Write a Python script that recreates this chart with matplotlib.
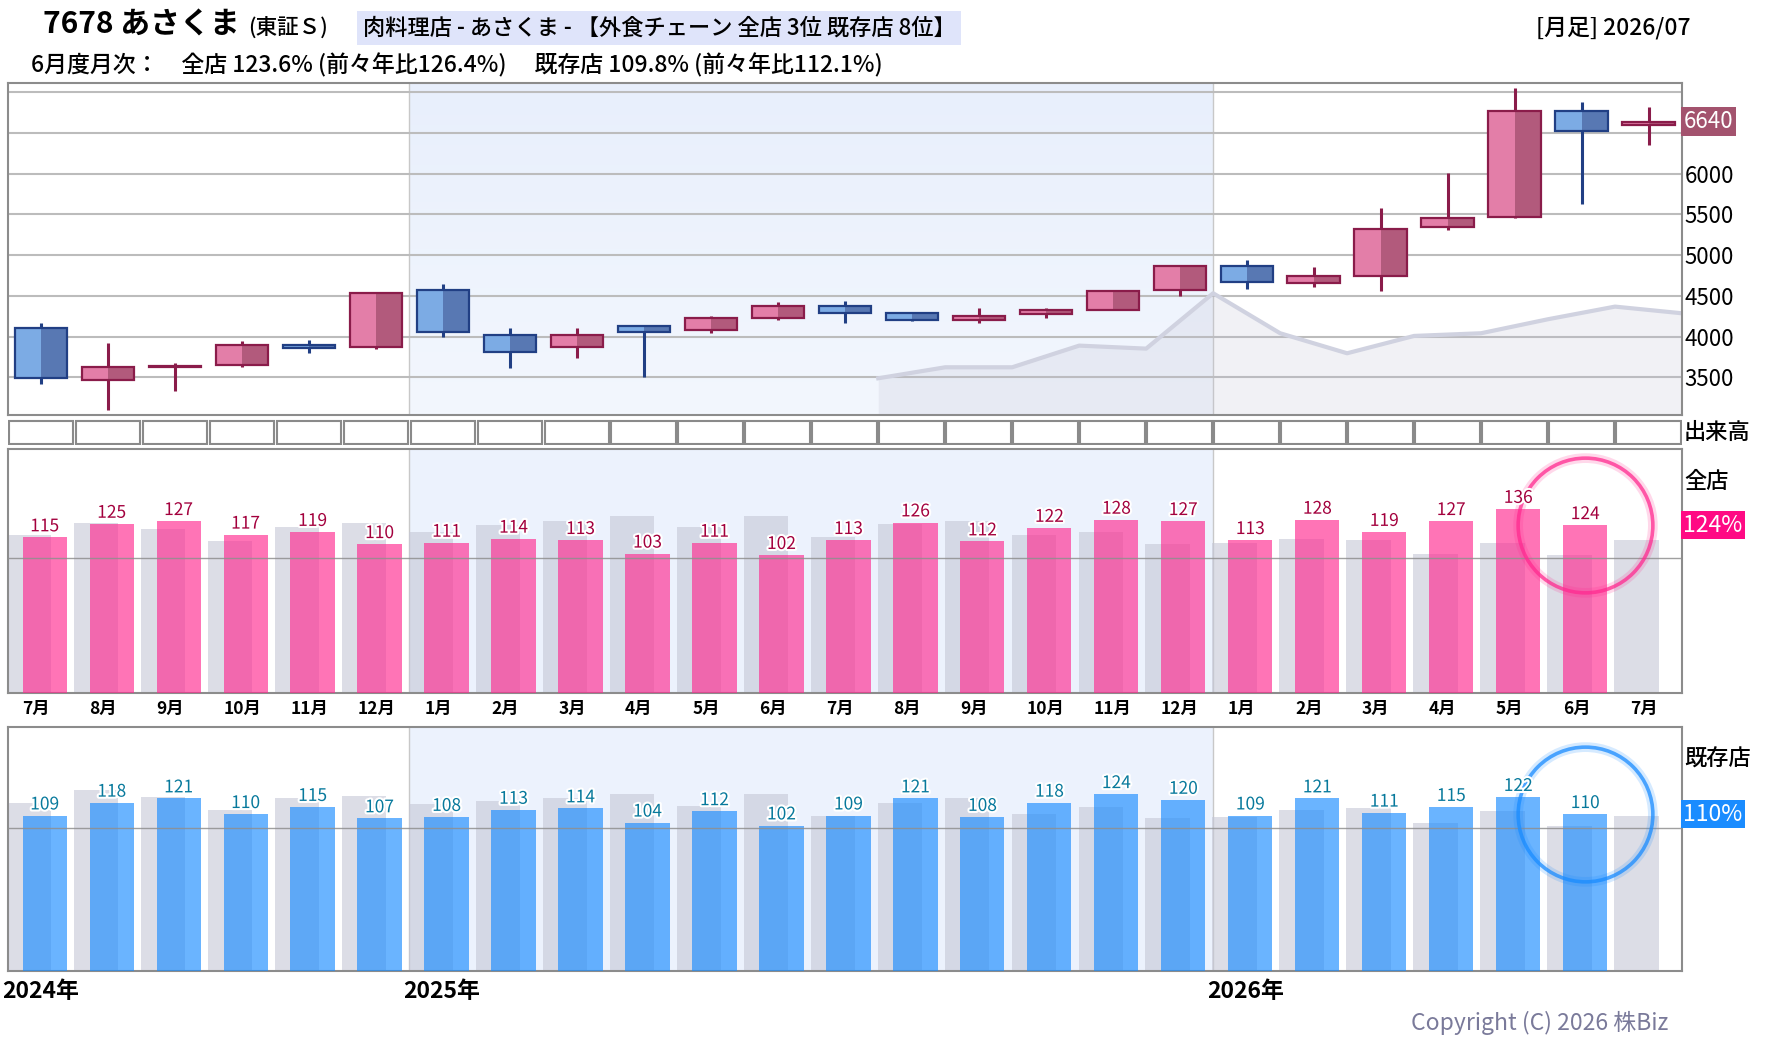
import matplotlib
matplotlib.use("Agg")
import matplotlib.pyplot as plt
import matplotlib.transforms as mtransforms
import matplotlib.patheffects as pe
from matplotlib.colors import LinearSegmentedColormap
import numpy as np

plt.rcParams['font.family'] = ['Noto Sans CJK JP', 'DejaVu Sans']

# ---------------- data ----------------
months = ["7月", "8月", "9月", "10月", "11月", "12月", "1月", "2月", "3月", "4月",
          "5月", "6月", "7月", "8月", "9月", "10月", "11月", "12月", "1月", "2月",
          "3月", "4月", "5月", "6月", "7月"]
year_labels = ["2024年", "2025年", "2026年"]
year_start_idx = [0, 6, 18]

opens = [4102, 3463, 3623, 3647, 3893, 3877, 4569, 4016, 3869, 4127, 4077, 4225, 4372,
         4286, 4200, 4274, 4323, 4569, 4864, 4655, 4741, 5343, 5466, 6768, 6596]
highs = [4167, 3922, 3672, 3946, 3959, 4532, 4647, 4106, 4106, 4127, 4253, 4425, 4438,
         4286, 4348, 4348, 4557, 4864, 4941, 4851, 5580, 6010, 7054, 6882, 6821]
lows = [3414, 3103, 3336, 3631, 3803, 3852, 4000, 3619, 3742, 3500, 4049, 4208, 4172,
        4188, 4172, 4233, 4323, 4503, 4589, 4614, 4565, 5314, 5453, 5625, 6358]
closes = [3488, 3623, 3639, 3893, 3856, 4532, 4053, 3807, 4016, 4053, 4225, 4372, 4286,
          4200, 4249, 4323, 4557, 4864, 4667, 4741, 5318, 5453, 6768, 6522, 6640]

compare_start = 13
compare_vals = [3488, 3623, 3623, 3889, 3852, 4532, 4041, 3795, 4008, 4041, 4213, 4368, 4286]

price_ticks = [3500, 4000, 4500, 5000, 5500, 6000, 6500, 7000]
price_tick_labels = ["3500", "4000", "4500", "5000", "5500", "6000", "", ""]

zenten = [115, 125, 127, 117, 119, 110, 111, 114, 113, 103, 111, 102, 113, 126, 112, 122,
          128, 127, 113, 128, 119, 127, 136, 124]
zenten_prev = [117, 126, 121, 112, 123, 126, 119, 124, 127, 131, 123, 131, 115, 125, 127,
               117, 119, 110, 111, 114, 113, 103, 111, 102, 113]
kizon = [109, 118, 121, 110, 115, 107, 108, 113, 114, 104, 112, 102, 109, 121, 108, 118,
         124, 120, 109, 121, 111, 115, 122, 110]
kizon_prev = [118, 127, 122, 113, 121, 123, 117, 119, 121, 124, 116, 124, 109, 118, 121,
              110, 115, 107, 108, 113, 114, 104, 112, 102, 109]

zenten_latest = 123.6
kizon_latest = 109.8

title_code = "7678 あさくま"
title_market = "(東証Ｓ)"
title_box = "肉料理店 - あさくま - 【外食チェーン 全店 3位 既存店 8位】"
title_right = "[月足] 2026/07"
subtitle = "6月度月次：　全店 123.6% (前々年比126.4%)　 既存店 109.8% (前々年比112.1%)"
copyright_text = "Copyright (C) 2026 株Biz"

# ---------------- layout ----------------
W, H = 1780, 1054
fig = plt.figure(figsize=(W / 100, H / 100), dpi=100)
fig.patch.set_facecolor("white")

L_PX, R_PX = 7.5, 1682.0


def add_ax(top, bottom):
    return fig.add_axes([L_PX / W, 1 - bottom / H, (R_PX - L_PX) / W, (bottom - top) / H])


ax_p = add_ax(82.5, 415.0)
ax_v = add_ax(419.3, 445.3)
ax_z = add_ax(449.3, 693.3)
ax_k = add_ax(727.3, 970.7)

n = len(months)
x = np.arange(n)
xl = (-0.5, n - 0.5)
shade = (5.5, 17.5)
spine_c = "#8c8c8c"

for a in (ax_p, ax_v, ax_z, ax_k):
    a.set_xlim(*xl)
    for s in a.spines.values():
        s.set_color(spine_c)
        s.set_linewidth(1.5)

# ---------------- price panel ----------------
ylo, yhi = 3037, 7120
ax_p.set_ylim(ylo, yhi)
cmap = LinearSegmentedColormap.from_list("sh", ["#f3f7fe", "#e8effc"])
grad = np.linspace(0, 1, 100).reshape(-1, 1)
ax_p.imshow(grad, extent=(shade[0], shade[1], ylo, yhi), origin="lower",
            aspect="auto", cmap=cmap, zorder=0)
for b in shade:
    ax_p.axvline(b, color="#c8c8c8", lw=1, zorder=0.5)
for t in price_ticks:
    ax_p.axhline(t, color="#bcbcbc", lw=1.5, zorder=1)

cx = np.arange(compare_start, compare_start + len(compare_vals)) - 0.5
ax_p.fill_between(cx, compare_vals, ylo, color="#c0c0d2", alpha=0.22, lw=0, zorder=1.2)
ax_p.plot(cx, compare_vals, color="#d0d2e0", lw=3, zorder=1.3, solid_joinstyle="round")

o = np.array(opens); c = np.array(closes); hi = np.array(highs); lo = np.array(lows)
up = c >= o
bw = 0.78
for i in range(n):
    if up[i]:
        lc, dc, ec = "#e37ea8", "#b25a7c", "#8a1c4a"
    else:
        lc, dc, ec = "#7cabe4", "#5878b3", "#213f84"
    bot = min(o[i], c[i]); ht = max(abs(c[i] - o[i]), 12)
    ax_p.vlines(x[i], lo[i], hi[i], color=ec, lw=2.2, zorder=2)
    ax_p.bar(x[i] - bw / 4, ht, bottom=bot, width=bw / 2, color=lc, lw=0, zorder=3)
    ax_p.bar(x[i] + bw / 4, ht, bottom=bot, width=bw / 2, color=dc, lw=0, zorder=3)
    ax_p.bar(x[i], ht, bottom=bot, width=bw, facecolor="none", edgecolor=ec, lw=1.6, zorder=4)

ax_p.yaxis.tick_right()
ax_p.set_yticks(price_ticks)
ax_p.set_yticklabels(price_tick_labels)
ax_p.tick_params(axis="y", length=0, pad=2, labelsize=16)
ax_p.set_xticks([])

ax_p.text(1.0008, closes[-1], f"{closes[-1]}", transform=ax_p.get_yaxis_transform(),
          ha="left", va="center", color="white", fontsize=16,
          bbox=dict(boxstyle="square,pad=0.12", fc="#a3536e", ec="none"), zorder=10)

# ---------------- volume strip ----------------
ax_v.bar(x, [1] * n, width=0.965, bottom=0, color="white", edgecolor="#8a8a8a", lw=1.5)
ax_v.set_ylim(-0.06, 1.06)
ax_v.set_xticks([]); ax_v.set_yticks([])
for s in ax_v.spines.values():
    s.set_visible(False)

# ---------------- bar panels ----------------
def bar_panel(a, vals, prev, ymax, color, lab_color, latest, box_color):
    a.set_ylim(0, ymax)
    a.axvspan(shade[0], shade[1], color="#ecf2fd", lw=0, zorder=0)
    for b in shade:
        a.axvline(b, color="#c8c8c8", lw=1, zorder=0.5)
    a.bar(x - 0.18, prev, width=0.66, color="#c5c7d6", alpha=0.6, lw=0, zorder=2)
    xv = x[:len(vals)] + 0.055
    a.bar(xv, vals, width=0.66, color=color, alpha=0.65, lw=0, zorder=3)
    a.axhline(100, color="#8f8f8f", lw=1, alpha=0.85, zorder=4)
    for xi, v in zip(xv, vals):
        a.annotate(f"{v}", (xi, v), xytext=(0, 1.5), textcoords="offset points",
                   ha="center", va="bottom", fontsize=12.5, color=lab_color, zorder=6,
                   path_effects=[pe.withStroke(linewidth=3, foreground="white")])
    # highlight circle on latest month
    a.plot(xv[-1], vals[-1], marker="o", ms=97, mfc="none", mec=color, mew=7,
           alpha=0.18, zorder=5)
    a.plot(xv[-1], vals[-1], marker="o", ms=97, mfc="none", mec=color, mew=2.6,
           alpha=0.75, zorder=5)
    a.set_yticks([])
    a.text(1.0008, vals[-1], f"{round(latest)}%", transform=a.get_yaxis_transform(),
           ha="left", va="center", color="white", fontsize=16.5,
           bbox=dict(boxstyle="square,pad=0.12", fc=box_color, ec="none"), zorder=10)


bar_panel(ax_z, zenten, zenten_prev, 180, "#ff2a90", "#a3003d", zenten_latest, "#ff0a84")
bar_panel(ax_k, kizon, kizon_prev, 171, "#1a8cff", "#07799c", kizon_latest, "#1a8cff")

ax_z.set_xticks(x)
ax_z.set_xticklabels(months, fontsize=12.5, fontweight="bold")
ax_z.tick_params(axis="x", length=0, pad=5)
shift = mtransforms.ScaledTranslation(-0.187, 0, fig.dpi_scale_trans)
for lab in ax_z.get_xticklabels():
    lab.set_horizontalalignment("left")
    lab.set_transform(lab.get_transform() + shift)

ax_k.set_xticks([])
ytr = mtransforms.blended_transform_factory(ax_k.transData, ax_k.transAxes)
yshift = mtransforms.ScaledTranslation(-0.057, 0, fig.dpi_scale_trans)
for lab, idx in zip(year_labels, year_start_idx):
    ax_k.text(idx - 0.5, -0.085, lab, transform=ytr + yshift, ha="left", va="center",
              fontsize=16.5, fontweight="bold")

# ---------------- texts ----------------
def ft(xp, yp, s, **kw):
    return fig.text(xp / W, 1 - yp / H, s, **kw)


t1 = ft(43, 25, title_code, fontsize=21.5, va="center", ha="left", fontweight="bold")
fig.canvas.draw()
bb = t1.get_window_extent(fig.canvas.get_renderer())
ft(bb.x1 + 8, 29, title_market, fontsize=15.5, va="center", ha="left", fontweight="medium")
ft(363, 28, title_box, fontsize=16, va="center", ha="left", fontweight="medium",
   bbox=dict(boxstyle="square,pad=0.25", fc="#dfe4fa", ec="none"))
ft(1691, 28, title_right, fontsize=16.5, va="center", ha="right", fontweight="medium")
ft(31, 65, subtitle, fontsize=16.5, va="center", ha="left", fontweight="medium")

ft(1684, 432, "出来高", fontsize=16, va="center", ha="left", fontweight="medium")
ft(1684, 482, "全店", fontsize=16, va="center", ha="left", fontweight="medium")
ft(1684, 759, "既存店", fontsize=16, va="center", ha="left", fontweight="medium")
ft(1668, 1023, copyright_text, fontsize=16.5, va="center", ha="right", color="#7a7a9a")

fig.savefig("out.png", dpi=100)
